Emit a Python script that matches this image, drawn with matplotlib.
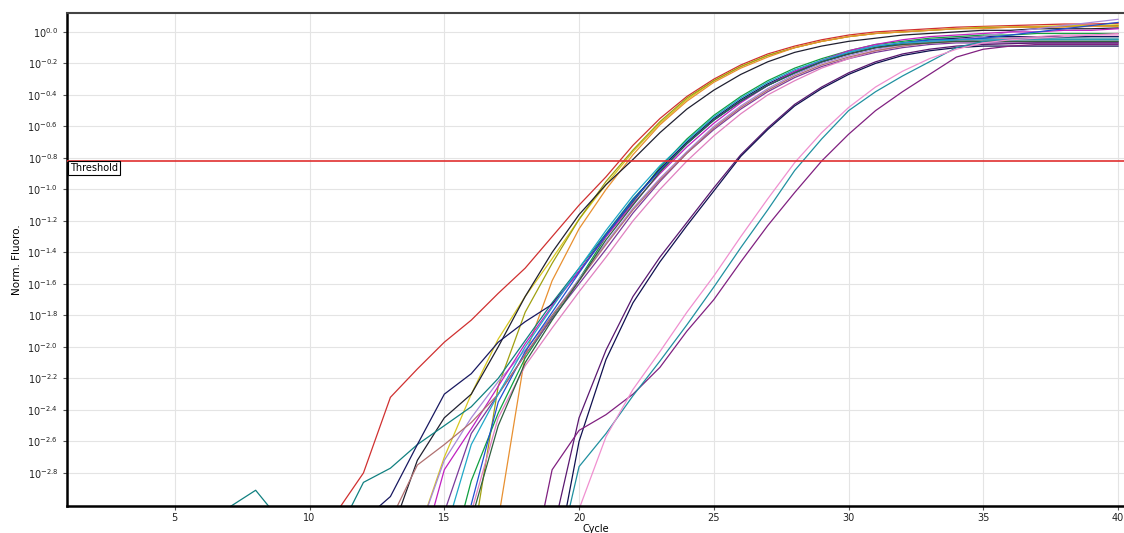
import numpy as np
import matplotlib
matplotlib.use("Agg")
import matplotlib.pyplot as plt
from matplotlib.ticker import FixedLocator, NullLocator

# log10 of normalised fluorescence, one value per cycle, last value = cycle 40
red      = [-3.05, -2.80, -2.32, -2.14, -1.97, -1.83, -1.66, -1.50, -1.30, -1.10,   # 11-20
            -0.92, -0.72, -0.55, -0.41, -0.30, -0.21, -0.14, -0.09, -0.05, -0.02,
            0.00, 0.01, 0.02, 0.03, 0.035, 0.04, 0.045, 0.05, 0.05, 0.055]
yellow   = [-3.2, -2.7, -2.3, -1.95, -1.68, -1.44, -1.19,                          # 14-20
            -0.97, -0.76, -0.58, -0.43, -0.31, -0.22, -0.15, -0.10, -0.06, -0.03,
            -0.01, 0.0, 0.01, 0.02, 0.03, 0.03, 0.035, 0.04, 0.04, 0.045]
olive    = [-3.3, -2.25, -1.78, -1.47, -1.19,                                       # 16-20
            -0.95, -0.75, -0.57, -0.42, -0.31, -0.22, -0.15, -0.10, -0.06, -0.03,
            -0.01, 0.0, 0.01, 0.02, 0.025, 0.03, 0.03, 0.035, 0.035, 0.04]
orange   = [-3.1, -2.05, -1.58, -1.25,                                              # 17-20
            -1.0, -0.78, -0.59, -0.44, -0.32, -0.23, -0.16, -0.10, -0.06, -0.03,
            -0.01, 0.0, 0.01, 0.02, 0.02, 0.03, 0.03, 0.03, 0.035, 0.035]
black    = [-3.2, -2.72, -2.45, -2.30, -2.0, -1.68, -1.40, -1.16,                  # 13-20
            -0.97, -0.81, -0.64, -0.49, -0.37, -0.27, -0.19, -0.13, -0.09, -0.06,
            -0.04, -0.02, -0.01, 0.0, 0.01, 0.01, 0.02, 0.02, 0.02, 0.025]
green    = [-3.5, -2.85, -2.42, -2.07, -1.81, -1.57,                               # 15-20
            -1.30, -1.08, -0.86, -0.68, -0.53, -0.41, -0.31, -0.23, -0.17, -0.12,
            -0.08, -0.06, -0.04, -0.03, -0.02, -0.02, -0.01, -0.01, -0.01, -0.01]
teal     = [-3.3, -3.02, -2.91, -3.12, -3.5,                                        # 6-10
            -3.2, -2.86, -2.77, -2.62, -2.50, -2.38, -2.20, -1.96, -1.72, -1.50,
            -1.28, -1.06, -0.88, -0.71, -0.56, -0.44, -0.34, -0.26, -0.19, -0.14,
            -0.10, -0.08, -0.06, -0.05, -0.04, -0.04, -0.04, -0.035, -0.03, -0.03]
navy     = [-3.1, -2.95, -2.62, -2.30, -2.17, -1.97, -1.84, -1.73, -1.52,          # 12-20
            -1.29, -1.07, -0.87, -0.70, -0.55, -0.43, -0.33, -0.25, -0.19, -0.14,
            -0.10, -0.07, -0.05, -0.04, -0.03, -0.03, -0.03, -0.03, -0.03, -0.03]
lavender = [-3.2, -2.72, -2.45, -2.22, -2.02, -1.80, -1.57,                        # 14-20
            -1.34, -1.12, -0.93, -0.76, -0.60, -0.47, -0.36, -0.27, -0.20, -0.15,
            -0.11, -0.08, -0.06, -0.05, -0.03, 0.0, 0.02, 0.04, 0.06, 0.08]
magenta  = [-3.4, -2.78, -2.52, -2.25, -1.98, -1.74, -1.52,                        # 14-20
            -1.30, -1.09, -0.90, -0.73, -0.58, -0.45, -0.34, -0.25, -0.18, -0.12,
            -0.08, -0.05, -0.03, -0.02, -0.01, 0.0, 0.0, 0.01, 0.01, 0.02]
purple   = [-3.05, -2.55, -2.30, -2.05, -1.82, -1.60,                              # 15-20
            -1.38, -1.15, -0.95, -0.77, -0.62, -0.49, -0.38, -0.29, -0.22, -0.17,
            -0.13, -0.10, -0.08, -0.07, -0.07, -0.07, -0.07, -0.07, -0.07, -0.07]
blue     = [-3.0, -2.35, -2.03, -1.78, -1.53,                                       # 16-20
            -1.29, -1.07, -0.88, -0.71, -0.56, -0.44, -0.34, -0.26, -0.19, -0.13,
            -0.09, -0.07, -0.05, -0.05, -0.04, -0.02, 0.0, 0.02, 0.04, 0.06]
pink     = [-3.05, -2.45, -2.12, -1.88, -1.65,                                      # 16-20
            -1.43, -1.20, -1.00, -0.82, -0.66, -0.52, -0.40, -0.31, -0.23, -0.17,
            -0.12, -0.09, -0.07, -0.06, -0.05, -0.04, -0.03, -0.02, -0.02, -0.01]
rosy     = [-3.1, -2.75, -2.62, -2.48, -2.30, -2.05, -1.80, -1.58,                 # 13-20
            -1.35, -1.13, -0.94, -0.77, -0.61, -0.48, -0.37, -0.28, -0.21, -0.16,
            -0.12, -0.09, -0.07, -0.06, -0.06, -0.06, -0.06, -0.06, -0.06, -0.06]
cyan     = [-3.2, -2.62, -2.30, -2.00, -1.75, -1.50,                               # 15-20
            -1.26, -1.04, -0.85, -0.69, -0.54, -0.42, -0.32, -0.24, -0.18, -0.13,
            -0.09, -0.07, -0.06, -0.05, -0.05, -0.05, -0.05, -0.05, -0.05, -0.05]
dkgreen  = [-3.1, -2.50, -2.10, -1.83, -1.58,                                       # 16-20
            -1.32, -1.10, -0.89, -0.71, -0.56, -0.44, -0.34, -0.26, -0.19, -0.14,
            -0.10, -0.08, -0.07, -0.06, -0.06, -0.06, -0.06, -0.06, -0.06, -0.06]
dkpurple = [-3.2, -2.45,                                                            # 19-20
            -2.02, -1.68, -1.43, -1.21, -0.99, -0.78, -0.61, -0.46, -0.35, -0.26,
            -0.19, -0.14, -0.11, -0.09, -0.08, -0.075, -0.07, -0.07, -0.07, -0.07]
navy2    = [-3.5, -2.6,                                                             # 19-20
            -2.08, -1.72, -1.46, -1.23, -1.01, -0.79, -0.62, -0.47, -0.36, -0.27,
            -0.20, -0.15, -0.12, -0.10, -0.09, -0.09, -0.09, -0.09, -0.09, -0.09]
purple_late = [-3.6, -2.78, -2.53,                                                  # 18-20
               -2.43, -2.30, -2.13, -1.90, -1.70, -1.46, -1.23, -1.02, -0.82, -0.65,
               -0.50, -0.38, -0.27, -0.16, -0.11, -0.09, -0.08, -0.08, -0.08, -0.08]
teal_late = [-3.5, -2.76,                                                           # 19-20
             -2.55, -2.31, -2.09, -1.86, -1.62, -1.37, -1.13, -0.88, -0.68, -0.50,
             -0.38, -0.28, -0.19, -0.10, -0.06, -0.05, -0.045, -0.045, -0.045, -0.045]
pink_late = [-3.8, -3.03,                                                           # 19-20
             -2.57, -2.27, -2.03, -1.78, -1.55, -1.30, -1.06, -0.83, -0.64, -0.48,
             -0.35, -0.25, -0.17, -0.11, -0.07, -0.05, -0.04, -0.03, -0.02, -0.02]

threshold_log = -0.82
xticks = [5, 10, 15, 20, 25, 30, 35, 40]
ytick_exps = [0.0, -0.2, -0.4, -0.6, -0.8, -1.0, -1.2, -1.4, -1.6, -1.8,
              -2.0, -2.2, -2.4, -2.6, -2.8]

curves = [
    (red, "#d03030"), (yellow, "#d8c820"), (olive, "#a0a010"), (orange, "#e89030"),
    (black, "#202030"), (green, "#10a040"), (teal, "#108080"), (navy, "#181860"),
    (lavender, "#a888d8"), (magenta, "#c020c0"), (purple, "#7a3a9a"), (blue, "#2050d0"),
    (pink, "#e080c0"), (rosy, "#b07070"), (cyan, "#20a8c8"), (dkgreen, "#306040"),
    (dkpurple, "#5a1870"), (navy2, "#101050"), (purple_late, "#802080"),
    (teal_late, "#2090a0"), (pink_late, "#f090d0"),
]

fig = plt.figure(figsize=(11.24, 5.33), dpi=100)
ax = fig.add_axes([67/1124, 27/533, 1057/1124, 493/533])

for vals, col in curves:
    cyc = np.arange(41 - len(vals), 41)
    ax.plot(cyc, 10**np.array(vals), color=col, lw=0.9)

ax.axhline(10**threshold_log, color="#e03030", lw=1.2, zorder=5)
ax.text(1.12, 10**(threshold_log - 0.015), "Threshold", fontsize=7, va="top", ha="left",
        bbox=dict(boxstyle="square,pad=0.2", fc="white", ec="black", lw=0.8), zorder=6)

ax.set_yscale("log")
ax.set_xlim(1, 40.22)
ax.set_ylim(10**-3.01, 10**0.12)
ax.xaxis.set_major_locator(FixedLocator(xticks))
ax.yaxis.set_major_locator(FixedLocator([10**e for e in ytick_exps]))
ax.yaxis.set_minor_locator(NullLocator())
ax.set_yticklabels(["$10^{%.1f}$" % (e + 0.0) for e in ytick_exps])
ax.tick_params(axis="both", labelsize=7, length=3, width=0.8, color="#555555",
               labelcolor="#222222")
ax.tick_params(axis="x", pad=2)
ax.grid(True, color="#e4e4e4", lw=0.8)
ax.set_axisbelow(True)

for s in ["left", "bottom"]:
    ax.spines[s].set_linewidth(1.8)
    ax.spines[s].set_color("black")
ax.spines["top"].set_linewidth(1.5)
ax.spines["top"].set_color("#444444")
ax.spines["right"].set_visible(False)

ax.set_xlabel("Cycle", fontsize=7)
ax.xaxis.set_label_coords(0.5, -0.047)
ax.xaxis.label.set_va("center")
ax.set_ylabel("Norm. Fluoro.", fontsize=7.5, labelpad=4)

fig.savefig("out.png", dpi=100)
